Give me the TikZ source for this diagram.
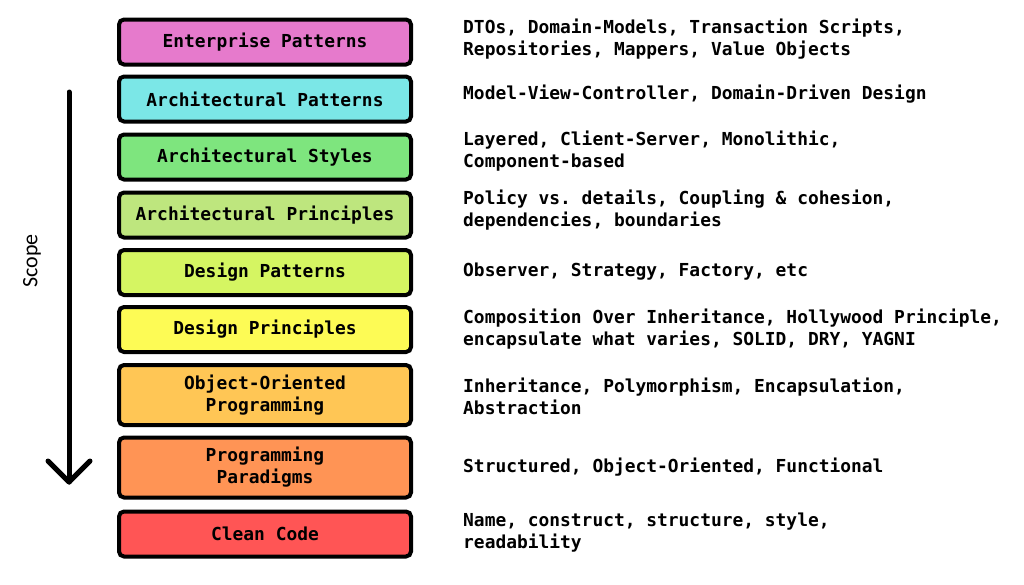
\documentclass[tikz,border=0pt]{standalone}
\usepackage{fontspec}
\setmonofont{DejaVu Sans Mono}
\newfontfamily\scopefont{Carlito}
\newcommand{\codefont}{\fontsize{17.9}{22}\selectfont\ttfamily\bfseries}

\definecolor{cEnterprise}{HTML}{E67ACC}
\definecolor{cArchPat}{HTML}{7BE7E7}
\definecolor{cArchSty}{HTML}{7EE57E}
\definecolor{cArchPri}{HTML}{BEE67E}
\definecolor{cDesPat}{HTML}{D5F562}
\definecolor{cDesPri}{HTML}{FDFB55}
\definecolor{cOOP}{HTML}{FFC655}
\definecolor{cParadigm}{HTML}{FF9455}
\definecolor{cClean}{HTML}{FF5555}

\begin{document}
\begin{tikzpicture}[x=1pt,y=-1pt,
  layer/.style={draw=black, line width=4pt, rounded corners=5pt,
    minimum width=292pt, minimum height=45pt, inner sep=0pt,
    align=center, font=\codefont},
  tall/.style={minimum height=60pt},
  note/.style={anchor=west, align=left, inner sep=0pt, font=\codefont},
  scopearrow/.style={line width=5pt, line cap=round, line join=round}]

\useasboundingbox (0,0) rectangle (1024,584);

% layer stack, from broadest to most local scope
\node[layer, fill=cEnterprise] (ent)  at (265,42)    {Enterprise Patterns};
\node[layer, fill=cArchPat]    (apat) at (265,99)    {Architectural Patterns};
\node[layer, fill=cArchSty]    (asty) at (265,157)   {Architectural Styles};
\node[layer, fill=cArchPri]    (apri) at (265,215)   {Architectural Principles};
\node[layer, fill=cDesPat]     (dpat) at (265,272.5) {Design Patterns};
\node[layer, fill=cDesPri]     (dpri) at (265,329.5) {Design Principles};
\node[layer, tall, fill=cOOP]      (oop)  at (265,395)   {Object-Oriented\\Programming};
\node[layer, tall, fill=cParadigm] (para) at (265,467.5) {Programming\\Paradigms};
\node[layer, fill=cClean]      (cc)   at (265,534)   {Clean Code};

% examples for each layer
\node[note] (nent)  at (463,39)    {DTOs, Domain-Models, Transaction Scripts,\\Repositories, Mappers, Value Objects};
\node[note] (napat) at (463,94)    {Model-View-Controller, Domain-Driven Design};
\node[note] (nasty) at (463,151.5) {Layered, Client-Server, Monolithic,\\Component-based};
\node[note] (napri) at (463,210.5) {Policy vs. details, Coupling \& cohesion,\\dependencies, boundaries};
\node[note] (ndpat) at (463,271.5) {Observer, Strategy, Factory, etc};
\node[note] (ndpri) at (463,329.5) {Composition Over Inheritance, Hollywood Principle,\\encapsulate what varies, SOLID, DRY, YAGNI};
\node[note] (noop)  at (463,396)   {Inheritance, Polymorphism, Encapsulation,\\Abstraction};
\node[note] (npara) at (463,467)   {Structured, Object-Oriented, Functional};
\node[note] (ncc)   at (463,532.5) {Name, construct, structure, style,\\readability};

% scope arrow
\coordinate (top) at (69,92);
\coordinate (tip) at (69,482);
\coordinate (wl) at (48,461);
\coordinate (wr) at (90,461);
\draw[scopearrow] (top) -- (tip);
\draw[scopearrow] (wl) -- (tip) -- (wr);
\node[rotate=90, font=\scopefont\fontsize{22}{24}\selectfont] (scope) at (32,261) {Scope};

\end{tikzpicture}
\end{document}
